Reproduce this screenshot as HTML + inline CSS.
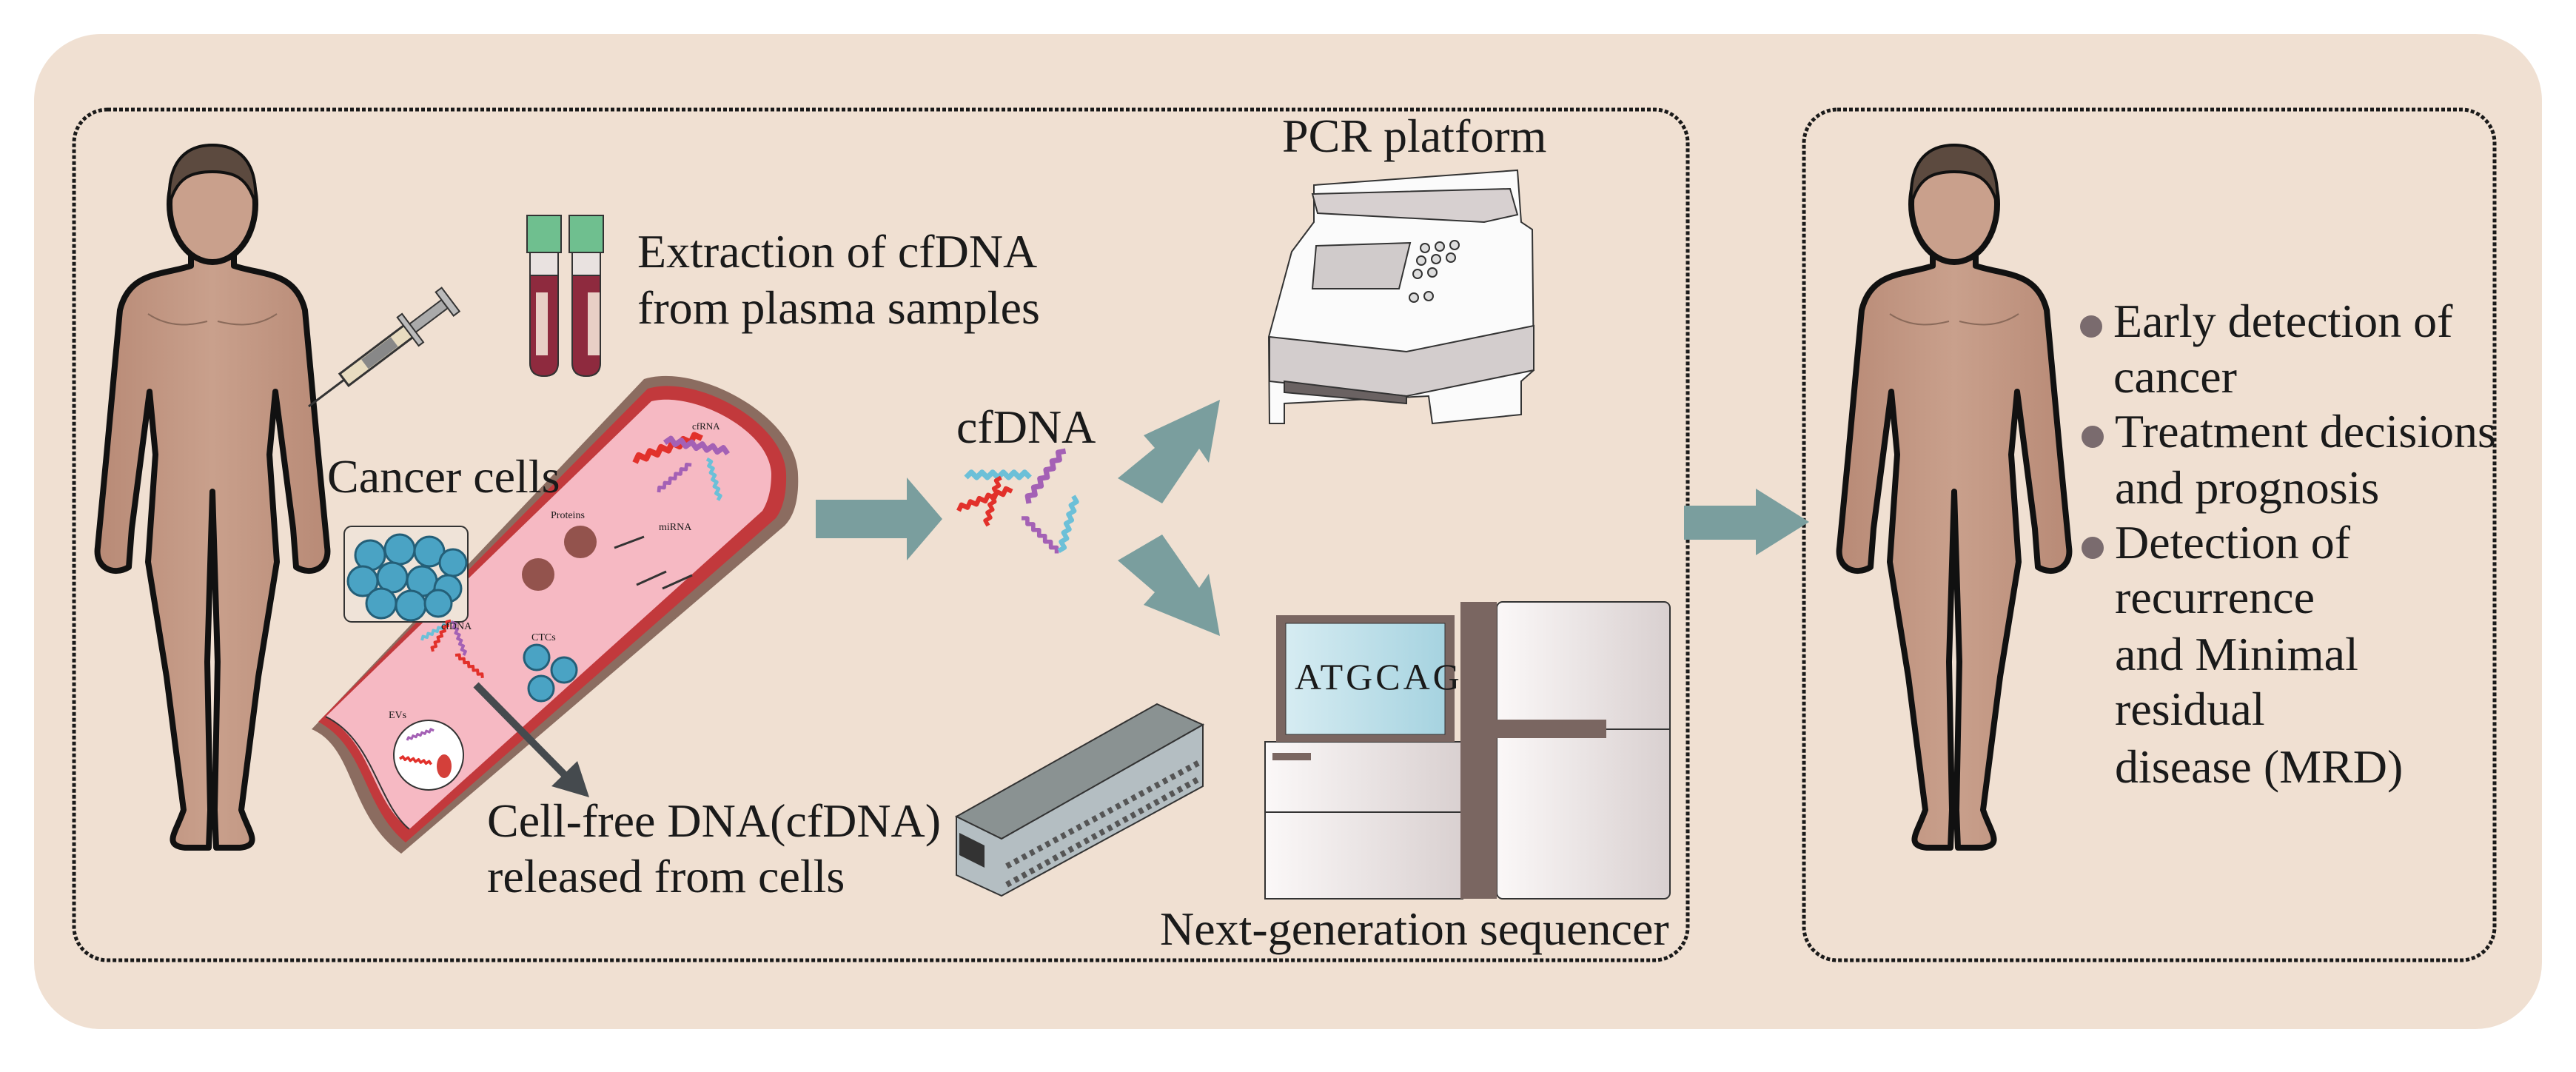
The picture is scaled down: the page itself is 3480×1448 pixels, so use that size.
<!DOCTYPE html>
<html><head><meta charset="utf-8"><style>
html,body{margin:0;padding:0;background:#fff;}
svg{display:block;}
svg text{font-family:"Liberation Serif","DejaVu Serif",serif !important;fill:#1a1a1a;}
</style></head><body>
<svg width="3480" height="1448" viewBox="0 0 3480 1448" xmlns="http://www.w3.org/2000/svg" font-family="Liberation Serif, DejaVu Serif, serif">
<defs>
<linearGradient id="skin" x1="0" x2="1"><stop offset="0" stop-color="#b88a76"/><stop offset="0.5" stop-color="#c9a08c"/><stop offset="1" stop-color="#b88a76"/></linearGradient>
<linearGradient id="scr" x1="0" x2="1"><stop offset="0" stop-color="#d6ecf2"/><stop offset="1" stop-color="#a6d3e0"/></linearGradient>
<linearGradient id="cab" x1="0" x2="1"><stop offset="0" stop-color="#fbf8f8"/><stop offset="1" stop-color="#d9d0d0"/></linearGradient>
<g id="human">
 <path d="M128,135 L128,165 C90,178 45,172 32,225 L14,420 L2,545 C-2,572 22,585 44,572 L48,520 L72,335 L80,420 L70,565 L95,720 L118,900 C108,930 90,948 120,951 L152,951 L154,900 L150,700 L157,470 L164,700 L160,900 L162,951 L194,951 C224,948 206,930 196,900 L219,720 L244,565 L234,420 L242,335 L266,520 L270,572 C292,585 316,572 312,545 L300,420 L282,225 C269,172 224,178 186,165 L186,135 Z" fill="url(#skin)" stroke="#111" stroke-width="8" stroke-linejoin="round"/>
 <ellipse cx="157" cy="82" rx="58" ry="78" fill="#c9a08c" stroke="#111" stroke-width="8"/>
 <path d="M99,82 C95,20 125,2 157,2 C189,2 219,20 215,82 C205,45 185,38 157,38 C129,38 109,45 99,82 Z" fill="#5c4a3f" stroke="#111" stroke-width="4"/>
 <path d="M70,230 C100,250 130,245 150,240 M164,240 C184,245 214,250 244,230" fill="none" stroke="#8a6a5a" stroke-width="2"/>
</g>
<g id="dna">
 <path d="M0,0 l8,-8 l8,8 l8,-8 l8,8 l8,-8 l8,8 l8,-8 l8,8 l8,-8 l8,8 l8,-8 l8,8" fill="none" stroke-width="8" stroke-linejoin="round"/>
</g>
</defs>

<rect x="46" y="46" width="3388" height="1344" rx="90" fill="#f0e0d2"/>
<rect x="100" y="148" width="2180" height="1149" rx="45" fill="none" stroke="#1a1a1a" stroke-width="5" stroke-dasharray="5 3"/>
<rect x="2437" y="148" width="933" height="1149" rx="45" fill="none" stroke="#1a1a1a" stroke-width="5" stroke-dasharray="5 3"/>

<use href="#human" transform="translate(130,194)"/>
<use href="#human" transform="translate(2483,194)"/>

<!-- syringe -->
<g transform="translate(417,549) rotate(-37)">
 <line x1="0" y1="0" x2="60" y2="0" stroke="#333" stroke-width="3"/>
 <rect x="60" y="-10" width="110" height="20" fill="#e8dcc0" stroke="#333" stroke-width="3"/>
 <rect x="95" y="-8" width="50" height="16" fill="#888"/>
 <rect x="170" y="-7" width="60" height="14" fill="#aaa" stroke="#333" stroke-width="2"/>
 <rect x="168" y="-24" width="8" height="48" fill="#bbb" stroke="#333" stroke-width="2"/>
 <rect x="230" y="-20" width="10" height="40" fill="#bbb" stroke="#333" stroke-width="2"/>
</g>

<!-- tubes -->
<g>
 <rect x="712" y="291" width="46" height="50" fill="#6fbf8f" stroke="#333" stroke-width="2"/>
 <path d="M716,341 L754,341 L754,490 Q754,508 735,508 Q716,508 716,490 Z" fill="#e9e2e0" stroke="#333" stroke-width="2"/>
 <path d="M716,372 L754,372 L754,490 Q754,508 735,508 Q716,508 716,490 Z" fill="#8e2a3e" stroke="#333" stroke-width="2"/>
 <rect x="724" y="395" width="16" height="85" fill="#e8cfc6"/>
 <rect x="769" y="291" width="46" height="50" fill="#6fbf8f" stroke="#333" stroke-width="2"/>
 <path d="M773,341 L811,341 L811,490 Q811,508 792,508 Q773,508 773,490 Z" fill="#e9e2e0" stroke="#333" stroke-width="2"/>
 <path d="M773,372 L811,372 L811,490 Q811,508 792,508 Q773,508 773,490 Z" fill="#8e2a3e" stroke="#333" stroke-width="2"/>
 <rect x="794" y="395" width="16" height="85" fill="#e8cfc6"/>
</g>
<text x="861" y="361" font-size="64" font-family="Liberation Serif, serif">Extraction of cfDNA</text>
<text x="861" y="437" font-size="64" font-family="Liberation Serif, serif">from plasma samples</text>

<!-- vessel -->
<path d="M421,985 L870,512 C940,490 1075,560 1078,640 C1080,680 1070,700 1060,710 L542,1153 C470,1100 480,1010 421,985 Z" fill="#8b6c60"/>
<path d="M430,975 L875,525 C940,505 1060,570 1062,640 C1063,670 1056,690 1048,700 L548,1138 C490,1090 495,1010 430,975 Z" fill="#c2393c"/>
<path d="M440,968 L880,542 C935,528 1040,580 1042,640 C1042,665 1036,680 1030,690 L553,1120 C500,1080 505,1005 440,968 Z" fill="#f6b9c3"/>
<path d="M440,968 C505,1000 510,1085 553,1120" fill="none" stroke="#333" stroke-width="2"/>

<!-- cancer cells -->
<text x="442" y="665" font-size="64" font-family="Liberation Serif, serif">Cancer cells</text>
<rect x="465" y="711" width="167" height="129" rx="10" fill="#efe3d8" stroke="#333" stroke-width="2"/>
<g fill="#4aa3c4" stroke="#245f78" stroke-width="3">
 <circle cx="500" cy="750" r="20"/><circle cx="540" cy="742" r="20"/><circle cx="580" cy="745" r="20"/><circle cx="612" cy="760" r="18"/>
 <circle cx="490" cy="785" r="20"/><circle cx="530" cy="780" r="20"/><circle cx="570" cy="785" r="20"/><circle cx="605" cy="795" r="18"/>
 <circle cx="515" cy="815" r="20"/><circle cx="555" cy="818" r="20"/><circle cx="592" cy="815" r="18"/>
</g>
<!-- redraw vessel front over cluster corner -->
<path d="M553,1120 L1030,690" stroke="#c2393c" stroke-width="0"/>

<!-- molecules in vessel -->
<text x="935" y="580" font-size="13" font-family="Liberation Mono, monospace">cfRNA</text>
<g transform="translate(858,625) rotate(-20)"><use href="#dna" stroke="#e2312b"/></g>
<g transform="translate(898,598) rotate(10) scale(0.9)"><use href="#dna" stroke="#a461b5"/></g>
<g transform="translate(955,620) rotate(75) scale(0.6)"><use href="#dna" stroke="#6cc0d8"/></g>
<g transform="translate(890,665) rotate(-40) scale(0.6)"><use href="#dna" stroke="#a461b5"/></g>
<text x="744" y="700" font-size="14" font-family="Liberation Mono, monospace">Proteins</text>
<circle cx="784" cy="732" r="22" fill="#7a3a30" opacity="0.8"/><circle cx="727" cy="776" r="22" fill="#7a3a30" opacity="0.8"/>
<text x="890" y="716" font-size="14" font-family="Liberation Mono, monospace">miRNA</text>
<path d="M830,740 l40,-15 M860,790 l40,-18 M895,795 l40,-18" stroke="#333" stroke-width="3" fill="none"/>
<g transform="translate(570,865) rotate(-30) scale(0.5)"><use href="#dna" stroke="#6cc0d8"/></g>
<g transform="translate(610,840) rotate(70) scale(0.5)"><use href="#dna" stroke="#a461b5"/></g>
<g transform="translate(585,880) rotate(-60) scale(0.5)"><use href="#dna" stroke="#e2312b"/></g>
<g transform="translate(615,885) rotate(40) scale(0.5)"><use href="#dna" stroke="#e2312b"/></g>
<text x="596" y="850" font-size="14" font-family="Liberation Mono, monospace">cfDNA</text>
<text x="718" y="865" font-size="14" font-family="Liberation Mono, monospace">CTCs</text>
<g fill="#4aa3c4" stroke="#245f78" stroke-width="3"><circle cx="725" cy="888" r="17"/><circle cx="762" cy="905" r="17"/><circle cx="731" cy="930" r="17"/></g>
<text x="525" y="970" font-size="14" font-family="Liberation Mono, monospace">EVs</text>
<circle cx="579" cy="1020" r="47" fill="#fff" stroke="#333" stroke-width="2"/>
<g transform="translate(540,1025) rotate(10) scale(0.45)"><use href="#dna" stroke="#e2312b"/></g>
<g transform="translate(550,1000) rotate(-20) scale(0.4)"><use href="#dna" stroke="#a461b5"/></g>
<ellipse cx="600" cy="1035" rx="10" ry="16" fill="#d4403a"/>
<!-- dark arrow -->
<line x1="643" y1="925" x2="768" y2="1052" stroke="#454a4e" stroke-width="10"/>
<polygon points="796,1077 745,1062 780,1028" fill="#454a4e"/>
<text x="658" y="1130" font-size="64" font-family="Liberation Serif, serif">Cell-free DNA(cfDNA)</text>
<text x="658" y="1205" font-size="64" font-family="Liberation Serif, serif">released from cells</text>

<!-- teal arrow 1 -->
<polygon points="1102,675 1225,675 1225,645 1273,701 1225,757 1225,727 1102,727" fill="#7a9e9e"/>
<text x="1292" y="598" font-size="64" font-family="Liberation Serif, serif">cfDNA</text>
<g transform="translate(1305,645) scale(0.9)"><use href="#dna" stroke="#6cc0d8"/></g>
<g transform="translate(1295,690) rotate(-20) scale(0.8)"><use href="#dna" stroke="#e2312b"/></g>
<g transform="translate(1335,710) rotate(-75) scale(0.7)"><use href="#dna" stroke="#e2312b"/></g>
<g transform="translate(1390,680) rotate(-55) scale(0.9)"><use href="#dna" stroke="#a461b5"/></g>
<g transform="translate(1380,700) rotate(45) scale(0.7)"><use href="#dna" stroke="#a461b5"/></g>
<g transform="translate(1450,670) rotate(105) scale(0.8)"><use href="#dna" stroke="#6cc0d8"/></g>
<!-- split arrows -->
<polygon points="1510,646 1560,605 1545,588 1648,540 1633,625 1620,606 1570,680" fill="#7a9e9e"/>
<polygon points="1510,757 1560,800 1545,817 1648,859 1633,775 1620,794 1570,722" fill="#7a9e9e"/>

<!-- PCR -->
<text x="1732" y="205" font-size="64" font-family="Liberation Serif, serif">PCR platform</text>
<g stroke="#333" stroke-width="2">
 <path d="M1775,250 L2050,230 L2055,300 L2070,310 L2072,500 L2055,515 L2055,560 L1935,572 L1930,535 L1735,545 L1735,572 L1715,572 L1714,455 L1745,340 L1775,300 Z" fill="#fbfbfb"/>
 <path d="M1773,262 L2040,255 L2050,290 L2005,300 L1780,288 Z" fill="#d7d0d0"/>
 <path d="M1715,455 L1900,475 L2072,440 L2072,500 L1900,535 L1715,515 Z" fill="#d3cdcd"/>
 <path d="M1735,515 L1900,535 L1900,545 L1735,530 Z" fill="#6a6262"/>
 <polygon points="1778,332 1905,328 1890,390 1773,390" fill="#d0cbcb"/>
 <g fill="#ddd"><circle cx="1925" cy="335" r="6"/><circle cx="1945" cy="333" r="6"/><circle cx="1965" cy="331" r="6"/><circle cx="1920" cy="352" r="6"/><circle cx="1940" cy="350" r="6"/><circle cx="1960" cy="348" r="6"/><circle cx="1915" cy="370" r="6"/><circle cx="1935" cy="368" r="6"/><circle cx="1910" cy="402" r="6"/><circle cx="1930" cy="400" r="6"/></g>
</g>

<!-- flow cell -->
<polygon points="1292,1103 1563,951 1625,979 1353,1133" fill="#8a9292" stroke="#333" stroke-width="2"/>
<polygon points="1292,1103 1353,1133 1625,979 1625,1062 1353,1210 1292,1182" fill="#b4bec2" stroke="#333" stroke-width="2"/>
<polygon points="1296,1125 1330,1142 1330,1172 1296,1155" fill="#333"/>
<path d="M1360,1170 L1620,1030" stroke="#555" stroke-width="8" stroke-dasharray="6 6"/>
<path d="M1360,1195 L1620,1052" stroke="#555" stroke-width="8" stroke-dasharray="6 6"/>

<!-- NGS -->
<rect x="1709" y="1002" width="267" height="212" fill="url(#cab)" stroke="#333" stroke-width="2"/>
<line x1="1709" y1="1097" x2="1973" y2="1097" stroke="#333" stroke-width="2"/>
<rect x="1719" y="1017" width="52" height="10" fill="#7a6661"/>
<rect x="1724" y="831" width="241" height="171" fill="#7a6661"/>
<rect x="1737" y="842" width="215" height="150" fill="url(#scr)" stroke="#333" stroke-width="1"/>
<text x="1749" y="931" font-size="50" letter-spacing="4" font-family="Liberation Serif, serif">ATGCAG</text>
<rect x="2022" y="813" width="234" height="401" rx="8" fill="url(#cab)" stroke="#333" stroke-width="2"/>
<line x1="2022" y1="985" x2="2256" y2="985" stroke="#333" stroke-width="2"/>
<rect x="1973" y="813" width="49" height="401" fill="#7a6661"/>
<rect x="2022" y="972" width="148" height="25" fill="#7a6661"/>
<text x="1567" y="1276" font-size="64" font-family="Liberation Serif, serif">Next-generation sequencer</text>

<!-- arrow to right -->
<polygon points="2275,683 2372,683 2372,660 2444,705 2372,750 2372,729 2275,729" fill="#7a9e9e"/>

<!-- bullets -->
<g fill="#7a6b6e"><circle cx="2825" cy="441" r="15"/><circle cx="2827" cy="590" r="15"/><circle cx="2827" cy="740" r="15"/></g>
<g font-size="64" font-family="Liberation Serif, serif">
<text x="2855" y="455">Early detection of</text>
<text x="2855" y="530">cancer</text>
<text x="2857" y="604">Treatment decisions</text>
<text x="2857" y="680">and prognosis</text>
<text x="2857" y="754">Detection of</text>
<text x="2857" y="828">recurrence</text>
<text x="2857" y="905">and Minimal</text>
<text x="2857" y="979">residual</text>
<text x="2857" y="1057">disease (MRD)</text>
</g>
</svg>
</body></html>
